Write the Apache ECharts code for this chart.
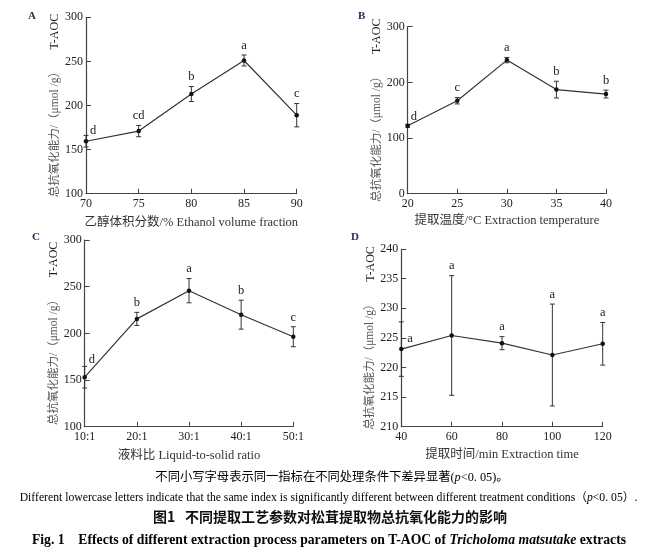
<!DOCTYPE html>
<html><head><meta charset="utf-8">
<script src="https://cdn.jsdelivr.net/npm/echarts@6/dist/echarts.min.js"></script>
<style>html,body{margin:0;padding:0;background:#fff}#c{width:655px;height:556px}</style>
</head><body><div id="c"></div>
<script>
// Panel A: ethanol volume fraction
const xA = [70, 75, 80, 85, 90];
const yA = [159.5, 171, 213, 251, 189];
const eA = [6.6, 6.4, 8.5, 6.2, 13.2];
const lA = ['d', 'cd', 'b', 'a', 'c'];
// Panel B: extraction temperature
const xB = [20, 25, 30, 35, 40];
const yB = [122, 167, 240, 187, 179];
const eB = [2.5, 5.7, 4.8, 15, 7];
const lB = ['d', 'c', 'a', 'b', 'b'];
// Panel C: liquid-to-solid ratio
const xC = ['10:1', '20:1', '30:1', '40:1', '50:1'];
const yC = [153, 215.5, 245.7, 220, 196.4];
const eC = [11.6, 7, 13, 15.5, 10.7];
const lC = ['d', 'b', 'a', 'b', 'c'];
// Panel D: extraction time
const xD = [40, 60, 80, 100, 120];
const yD = [223.1, 225.4, 224.1, 222.1, 224.0];
const eD = [4.6, 10.1, 1.1, 8.6, 3.6];
const lD = ['a', 'a', 'a', 'a', 'a'];

const SERIF = "'Liberation Serif','Noto Sans CJK SC'";
const INK = '#333';

const chart = echarts.init(document.getElementById('c'), null, {renderer: 'canvas'});

function xAxisCfg(idx, extra, name, gap) {
  return Object.assign({
    gridIndex: idx,
    name: name, nameLocation: 'middle', nameGap: gap,
    nameTextStyle: {fontSize: 12.5, fontFamily: SERIF, color: '#333'},
    axisLine: {show: true, onZero: false, lineStyle: {color: '#444', width: 1.2}},
    axisTick: {show: true, inside: true, length: 5, lineStyle: {color: '#444', width: 1}},
    axisLabel: {color: '#222', fontSize: 12, fontFamily: SERIF, margin: 4},
    splitLine: {show: false}
  }, extra);
}
function yAxisCfg(idx, min, max, interval, gap) {
  return {
    gridIndex: idx, type: 'value', min: min, max: max, interval: interval,
    name: '{cn|总抗氧化能力/（μmol /g）}     {en|T-AOC}',
    nameLocation: 'middle', nameRotate: 90, nameGap: gap,
    nameTextStyle: {rich: {
      cn: {fontSize: 11.5, fontFamily: SERIF, color: '#555'},
      en: {fontSize: 12, fontFamily: SERIF, color: '#222'}
    }},
    axisLine: {show: true, onZero: false, lineStyle: {color: '#444', width: 1.2}},
    axisTick: {show: true, inside: true, length: 5, lineStyle: {color: '#444', width: 1}},
    axisLabel: {color: '#222', fontSize: 12, fontFamily: SERIF, margin: 3},
    splitLine: {show: false}
  };
}
function lineSeries(idx, xs, ys) {
  return {
    type: 'line', xAxisIndex: idx, yAxisIndex: idx,
    data: xs.map((x, i) => [x, ys[i]]),
    symbol: 'circle', symbolSize: 4.5,
    lineStyle: {color: INK, width: 1.2},
    itemStyle: {color: '#111'},
    z: 4, silent: true
  };
}
function errSeries(idx, xs, ys, es, ls, firstOff) {
  return {
    type: 'custom', xAxisIndex: idx, yAxisIndex: idx,
    data: xs.map((x, i) => [x, ys[i], es[i]]),
    encode: {x: 0, y: 1},
    renderItem: function (params, api) {
      const x = api.value(0), y = api.value(1), e = api.value(2);
      const i = params.dataIndex;
      const top = api.coord([x, y + e]);
      const bot = api.coord([x, y - e]);
      const mid = api.coord([x, y]);
      const cw = 2.5;
      const st = {stroke: INK, lineWidth: 1};
      const children = [
        {type: 'line', shape: {x1: top[0], y1: top[1], x2: bot[0], y2: bot[1]}, style: st},
        {type: 'line', shape: {x1: top[0] - cw, y1: top[1], x2: top[0] + cw, y2: top[1]}, style: st},
        {type: 'line', shape: {x1: bot[0] - cw, y1: bot[1], x2: bot[0] + cw, y2: bot[1]}, style: st}
      ];
      let tx, ty, al, va;
      if (i === 0) {
        tx = mid[0] + firstOff[0]; ty = mid[1] + firstOff[1]; al = 'left'; va = 'middle';
      } else {
        tx = top[0]; ty = top[1] - 3; al = 'center'; va = 'bottom';
      }
      children.push({type: 'text', style: {
        text: ls[i], x: tx, y: ty, align: al, verticalAlign: va,
        fill: '#222', font: "12.5px 'Liberation Serif'"
      }});
      return {type: 'group', children: children};
    },
    z: 3, silent: true
  };
}

const option = {
  animation: false,
  backgroundColor: '#fff',
  grid: [
    {left: 86, top: 17.3, width: 210.7, height: 176.4},
    {left: 407.7, top: 26.7, width: 198.3, height: 167},
    {left: 84.7, top: 240, width: 208.6, height: 186.7},
    {left: 401.3, top: 249, width: 201.4, height: 177.7}
  ],
  xAxis: [
    xAxisCfg(0, {type: 'value', min: 70, max: 90, interval: 5}, '乙醇体积分数/% Ethanol volume fraction', 23),
    xAxisCfg(1, {type: 'value', min: 20, max: 40, interval: 5}, '提取温度/°C Extraction temperature', 21),
    xAxisCfg(2, {type: 'category', data: xC, boundaryGap: false}, '液料比 Liquid-to-solid ratio', 23),
    xAxisCfg(3, {type: 'value', min: 40, max: 120, interval: 20}, '提取时间/min Extraction time', 22)
  ],
  yAxis: [
    yAxisCfg(0, 100, 300, 50, 23),
    yAxisCfg(1, 0, 300, 100, 25),
    yAxisCfg(2, 100, 300, 50, 25),
    yAxisCfg(3, 210, 240, 5, 23)
  ],
  series: [
    lineSeries(0, xA, yA), errSeries(0, xA, yA, eA, lA, [4, -11]),
    lineSeries(1, xB, yB), errSeries(1, xB, yB, eB, lB, [3, -9]),
    lineSeries(2, xC, yC), errSeries(2, xC, yC, eC, lC, [4, -17.5]),
    lineSeries(3, xD, yD), errSeries(3, xD, yD, eD, lD, [6, -10])
  ],
  graphic: [
    {type: 'text', left: 28, top: 11, style: {text: 'A', font: "bold 11px 'Liberation Serif'", fill: '#223355'}},
    {type: 'text', left: 358, top: 11, style: {text: 'B', font: "bold 11px 'Liberation Serif'", fill: '#223355'}},
    {type: 'text', left: 32, top: 232, style: {text: 'C', font: "bold 11px 'Liberation Serif'", fill: '#223355'}},
    {type: 'text', left: 351, top: 232, style: {text: 'D', font: "bold 11px 'Liberation Serif'", fill: '#223355'}},
    {type: 'text', x: 332, y: 478, style: {
      text: '{a|不同小写字母表示同一指标在不同处理条件下差异显著(}{i|p}{a|<0. 05)。}',
      align: 'center', verticalAlign: 'middle',
      rich: {a: {fontSize: 12.3, fontFamily: SERIF, color: '#222'}, i: {fontSize: 12.3, fontFamily: SERIF, fontStyle: 'italic', color: '#222'}}
    }},
    {type: 'text', x: 328.5, y: 498, style: {
      text: '{a|Different lowercase letters indicate that the same index is significantly different between different treatment conditions（}{i|p}{a|<0. 05）.}',
      align: 'center', verticalAlign: 'middle',
      rich: {a: {fontSize: 11.7, fontFamily: SERIF, color: '#222'}, i: {fontSize: 11.7, fontFamily: SERIF, fontStyle: 'italic', color: '#222'}}
    }},
    {type: 'text', x: 330, y: 517, style: {
      text: '图1   不同提取工艺参数对松茸提取物总抗氧化能力的影响',
      align: 'center', verticalAlign: 'middle',
      font: "bold 14px 'Noto Sans CJK SC'", fill: '#111'
    }},
    {type: 'text', x: 329, y: 540, style: {
      text: '{b|Fig. 1    Effects of different extraction process parameters on T-AOC of }{i|Tricholoma matsutake}{b| extracts}',
      align: 'center', verticalAlign: 'middle',
      rich: {
        b: {fontSize: 13.7, fontWeight: 'bold', fontFamily: "'Liberation Serif'", color: '#111'},
        i: {fontSize: 13.7, fontWeight: 'bold', fontStyle: 'italic', fontFamily: "'Liberation Serif'", color: '#111'}
      }
    }}
  ]
};
chart.setOption(option);
</script>
</body></html>
